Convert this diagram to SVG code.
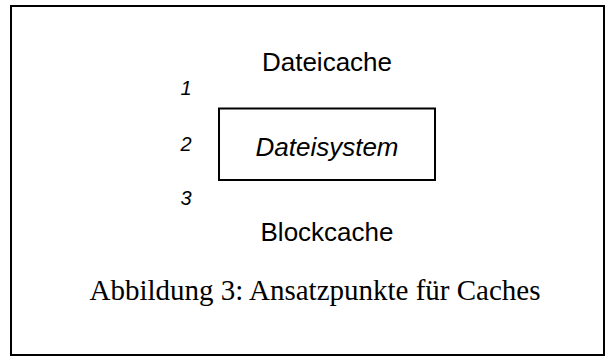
<svg xmlns="http://www.w3.org/2000/svg" width="609" height="360" viewBox="0 0 609 360">
<style>
.lbl{font-family:"Liberation Sans",Arial,sans-serif;font-size:26px;fill:#000}
.num{font-family:"Liberation Sans",Arial,sans-serif;font-size:20px;font-style:italic;fill:#000}
.cap{font-family:"Liberation Serif","Times New Roman",serif;font-size:29px;fill:#000}
</style>
<rect x="0" y="0" width="609" height="360" fill="#fff"/>
<rect x="11" y="6" width="593" height="349" fill="none" stroke="#000" stroke-width="2"/>
<g id="dateicache"><text class="lbl" x="327" y="71" text-anchor="middle">Dateicache</text></g>
<g id="dateisystem">
<rect x="219" y="108.5" width="216" height="71.5" fill="none" stroke="#000" stroke-width="2"/>
<text class="lbl" x="327" y="156" text-anchor="middle" font-style="italic">Dateisystem</text>
</g>
<g id="blockcache"><text class="lbl" x="327" y="241" text-anchor="middle">Blockcache</text></g>
<g id="nums">
<text class="num" x="186" y="95" text-anchor="middle">1</text>
<text class="num" x="186" y="151" text-anchor="middle">2</text>
<text class="num" x="186" y="205" text-anchor="middle">3</text>
</g>
<g id="connectors"></g>
<text class="cap" x="315" y="300" text-anchor="middle">Abbildung 3: Ansatzpunkte für Caches</text>
</svg>
